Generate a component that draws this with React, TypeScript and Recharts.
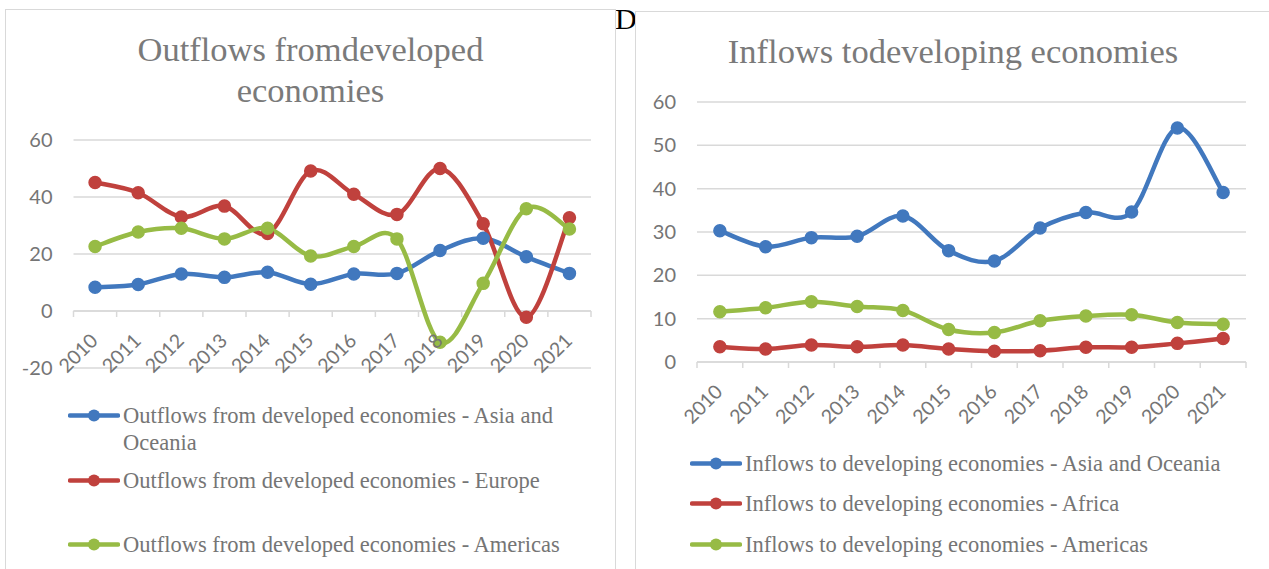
import React from 'react';
import { LineChart, Line, XAxis, YAxis, CartesianGrid, ReferenceLine } from 'recharts';

const years = ['2010', '2011', '2012', '2013', '2014', '2015', '2016', '2017', '2018', '2019', '2020', '2021'];

// outflows from developed economies
const outAsiaOceania = [8.3, 9.3, 13, 11.8, 13.6, 9.4, 13, 13.2, 21.2, 25.5, 19, 13.2];
const outEurope = [45.1, 41.5, 33, 36.8, 27.2, 49.1, 41, 33.9, 50, 30.6, -2.2, 32.7];
const outAmericas = [22.6, 27.7, 29, 25.3, 29, 19.3, 22.6, 25.3, -11, 9.7, 35.9, 28.8];
const outTicks = [-20, 0, 20, 40, 60];

// inflows to developing economies
const inAsiaOceania = [30.3, 26.6, 28.7, 29, 33.7, 25.7, 23.3, 30.9, 34.5, 34.6, 54, 39.1];
const inAfrica = [3.5, 3.0, 3.9, 3.5, 3.9, 3.0, 2.5, 2.6, 3.4, 3.4, 4.3, 5.4];
const inAmericas = [11.6, 12.5, 13.9, 12.8, 11.9, 7.5, 6.8, 9.5, 10.6, 10.9, 9.1, 8.7];
const inTicks = [0, 10, 20, 30, 40, 50, 60];

const BLUE = '#4178be';
const RED = '#c0413d';
const GREEN = '#97bb45';
const GRID = '#d9d9d9';
const TEXT = '#757575';

const outData = years.map((year, i) => ({
  year,
  asia: outAsiaOceania[i],
  europe: outEurope[i],
  americas: outAmericas[i],
}));

const inData = years.map((year, i) => ({
  year,
  asia: inAsiaOceania[i],
  africa: inAfrica[i],
  americas: inAmericas[i],
}));

// Excel-like smoothed line (catmull-rom through the points)
const excelSmooth = (context: any) => {
  let pts: number[][] = [];
  return {
    areaStart() {},
    areaEnd() {},
    lineStart() {
      pts = [];
    },
    point(x: number, y: number) {
      pts.push([+x, +y]);
    },
    lineEnd() {
      const n = pts.length;
      if (!n) return;
      context.moveTo(pts[0][0], pts[0][1]);
      for (let i = 0; i < n - 1; i++) {
        const p0 = pts[Math.max(i - 1, 0)];
        const p1 = pts[i];
        const p2 = pts[i + 1];
        const p3 = pts[Math.min(i + 2, n - 1)];
        context.bezierCurveTo(
          p1[0] + (p2[0] - p0[0]) / 6,
          p1[1] + (p2[1] - p0[1]) / 6,
          p2[0] - (p3[0] - p1[0]) / 6,
          p2[1] - (p3[1] - p1[1]) / 6,
          p2[0],
          p2[1]
        );
      }
    },
  };
};

// axis line at zero with tick marks between categories
const ZeroAxis = (props: any) => {
  const { x1, y1, x2 } = props;
  const step = (x2 - x1) / years.length;
  return (
    <g>
      <line x1={x1} y1={y1} x2={x2} y2={y1} stroke={GRID} strokeWidth={1.5} />
      {[...years, ''].map((_, i) => (
        <line
          key={i}
          x1={x1 + i * step}
          x2={x1 + i * step}
          y1={y1}
          y2={y1 + 6}
          stroke={GRID}
          strokeWidth={1.5}
        />
      ))}
    </g>
  );
};

const YearTick = (props: any) => {
  const { x, y, payload, shift } = props;
  return (
    <g transform={`translate(${x + 4},${y + shift})`}>
      <text
        x={0}
        y={0}
        textAnchor="end"
        transform="rotate(-45)"
        fill={TEXT}
        fontSize={19.5}
        fontFamily="Lato"
      >
        {payload.value}
      </text>
    </g>
  );
};

const LegendItem = ({ color, label, left, top, width }: any) => (
  <div style={{ position: 'absolute', left, top, display: 'flex', alignItems: 'flex-start' }}>
    <svg width={52} height={27} style={{ flex: 'none' }}>
      <line x1={2} y1={13.5} x2={50} y2={13.5} stroke={color} strokeWidth={4.5} strokeLinecap="round" />
      <circle cx={26} cy={13.5} r={6} fill={color} />
    </svg>
    <div
      style={{
        marginLeft: 3,
        width,
        fontFamily: '"Liberation Serif", serif',
        fontSize: 22.5,
        lineHeight: '27px',
        color: TEXT,
      }}
    >
      {label}
    </div>
  </div>
);

const titleStyle: React.CSSProperties = {
  position: 'absolute',
  textAlign: 'center',
  fontFamily: '"Liberation Serif", serif',
  fontSize: 34.5,
  lineHeight: '41px',
  color: '#7a7a7a',
};

const tickStyle = { fill: TEXT, fontSize: 20, fontFamily: 'Lato' };

export default function App() {
  return (
    <div
      style={{
        position: 'absolute',
        left: 0,
        top: 0,
        width: 1269,
        height: 569,
        overflow: 'hidden',
        background: '#fff',
      }}
    >
      <div
        style={{
          position: 'absolute',
          left: 615,
          top: 2,
          fontFamily: '"Liberation Serif", serif',
          fontSize: 30,
          color: '#000',
        }}
      >
        D
      </div>

      <div
        style={{
          position: 'absolute',
          left: 5,
          top: 9,
          width: 611,
          height: 620,
          border: `1.5px solid ${GRID}`,
          boxSizing: 'border-box',
          background: '#fff',
        }}
      />
      <div
        style={{
          position: 'absolute',
          left: 635,
          top: 11,
          width: 660,
          height: 620,
          border: `1.5px solid ${GRID}`,
          boxSizing: 'border-box',
          background: '#fff',
        }}
      />

      <div style={{ ...titleStyle, left: 5, top: 29, width: 611 }}>
        Outflows fromdeveloped
        <br />
        economies
      </div>
      <div style={{ ...titleStyle, left: 635, top: 31, width: 636 }}>
        Inflows todeveloping economies
      </div>

      <div style={{ position: 'absolute', left: 0, top: 0 }}>
        <LineChart
          width={615}
          height={569}
          data={outData}
          margin={{ top: 140, right: 24, left: 0, bottom: 171 }}
        >
          <CartesianGrid vertical={false} stroke={GRID} strokeWidth={1.5} />
          <XAxis
            dataKey="year"
            scale="band"
            height={30}
            axisLine={false}
            tickLine={false}
            tickSize={0}
            tickMargin={0}
            interval={0}
            tick={<YearTick shift={-26} />}
          />
          <YAxis
            width={73.5}
            domain={[-20, 60]}
            ticks={outTicks}
            axisLine={false}
            tickLine={false}
            tickSize={0}
            tickMargin={21}
            tick={tickStyle}
          />
          <ReferenceLine y={0} shape={<ZeroAxis />} />
          <Line
            dataKey="asia"
            name="Outflows from developed economies - Asia and Oceania"
            type={excelSmooth as any}
            stroke={BLUE}
            strokeWidth={4.5}
            dot={{ r: 6, fill: BLUE, stroke: BLUE, strokeWidth: 1.5 }}
            activeDot={false}
            isAnimationActive={false}
          />
          <Line
            dataKey="europe"
            name="Outflows from developed economies - Europe"
            type={excelSmooth as any}
            stroke={RED}
            strokeWidth={4.5}
            dot={{ r: 6, fill: RED, stroke: RED, strokeWidth: 1.5 }}
            activeDot={false}
            isAnimationActive={false}
          />
          <Line
            dataKey="americas"
            name="Outflows from developed economies - Americas"
            type={excelSmooth as any}
            stroke={GREEN}
            strokeWidth={4.5}
            dot={{ r: 6, fill: GREEN, stroke: GREEN, strokeWidth: 1.5 }}
            activeDot={false}
            isAnimationActive={false}
          />
        </LineChart>
      </div>

      <div style={{ position: 'absolute', left: 615, top: 0 }}>
        <LineChart
          width={654}
          height={569}
          data={inData}
          margin={{ top: 102, right: 23, left: 0, bottom: 177 }}
        >
          <CartesianGrid vertical={false} stroke={GRID} strokeWidth={1.5} />
          <XAxis
            dataKey="year"
            scale="band"
            height={30}
            axisLine={false}
            tickLine={false}
            tickSize={0}
            tickMargin={0}
            interval={0}
            tick={<YearTick shift={31} />}
          />
          <YAxis
            width={82}
            domain={[0, 60]}
            ticks={inTicks}
            axisLine={false}
            tickLine={false}
            tickSize={0}
            tickMargin={21}
            tick={tickStyle}
          />
          <ReferenceLine y={0} shape={<ZeroAxis />} />
          <Line
            dataKey="asia"
            name="Inflows to developing economies - Asia and Oceania"
            type={excelSmooth as any}
            stroke={BLUE}
            strokeWidth={4.5}
            dot={{ r: 6, fill: BLUE, stroke: BLUE, strokeWidth: 1.5 }}
            activeDot={false}
            isAnimationActive={false}
          />
          <Line
            dataKey="africa"
            name="Inflows to developing economies - Africa"
            type={excelSmooth as any}
            stroke={RED}
            strokeWidth={4.5}
            dot={{ r: 6, fill: RED, stroke: RED, strokeWidth: 1.5 }}
            activeDot={false}
            isAnimationActive={false}
          />
          <Line
            dataKey="americas"
            name="Inflows to developing economies - Americas"
            type={excelSmooth as any}
            stroke={GREEN}
            strokeWidth={4.5}
            dot={{ r: 6, fill: GREEN, stroke: GREEN, strokeWidth: 1.5 }}
            activeDot={false}
            isAnimationActive={false}
          />
        </LineChart>
      </div>

      <LegendItem color={BLUE} left={68} top={401.5} width={470} label="Outflows from developed economies - Asia and Oceania" />
      <LegendItem color={RED} left={68} top={466.5} width={470} label="Outflows from developed economies - Europe" />
      <LegendItem color={GREEN} left={68} top={530.5} width={470} label="Outflows from developed economies - Americas" />

      <LegendItem color={BLUE} left={690} top={449.5} width={540} label="Inflows to developing economies - Asia and Oceania" />
      <LegendItem color={RED} left={690} top={489.5} width={540} label="Inflows to developing economies - Africa" />
      <LegendItem color={GREEN} left={690} top={530.5} width={540} label="Inflows to developing economies - Americas" />
    </div>
  );
}
